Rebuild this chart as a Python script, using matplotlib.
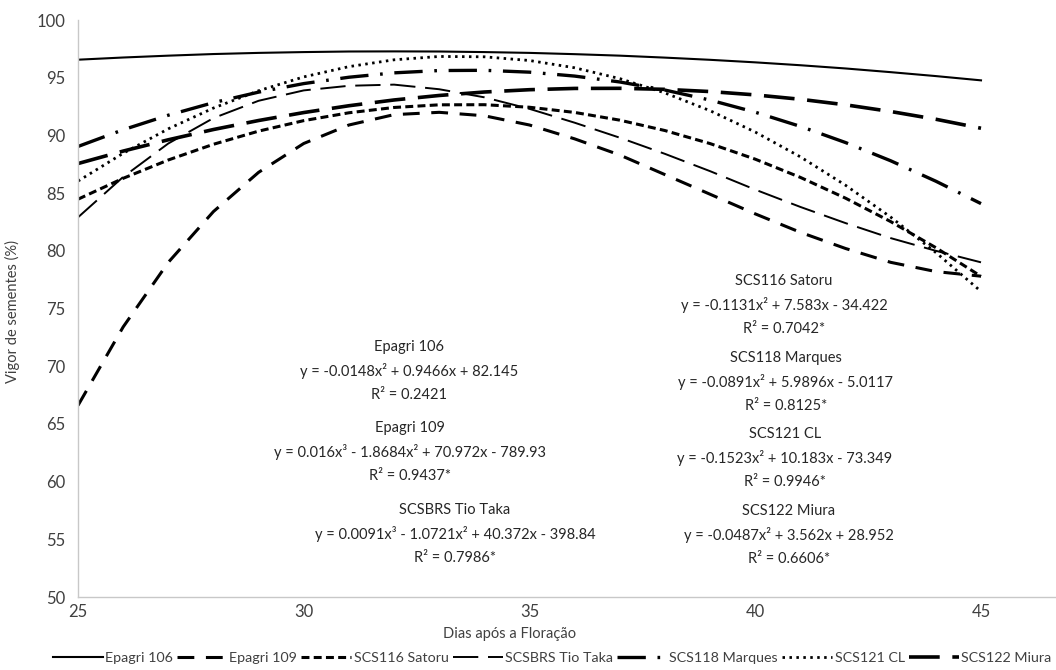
import matplotlib
matplotlib.use('Agg')
import matplotlib.pyplot as plt

plt.rcParams['font.family'] = ['Lato', 'DejaVu Sans']

# days after flowering
days = [25, 26, 27, 28, 29, 30, 31, 32, 33, 34, 35,
        36, 37, 38, 39, 40, 41, 42, 43, 44, 45]

# seed vigour (%)
epagri_106 = [96.56, 96.75, 96.91, 97.05, 97.15, 97.22, 97.27, 97.28, 97.27, 97.22, 97.15,
              97.04, 96.91, 96.74, 96.55, 96.33, 96.08, 95.80, 95.48, 95.14, 94.77]
epagri_109 = [66.6, 73.4, 79.0, 83.4, 86.8, 89.3, 90.9, 91.8, 92.0, 91.7, 90.9,
              89.7, 88.3, 86.6, 84.9, 83.2, 81.6, 80.2, 79.0, 78.2, 77.8]
scs116_satoru = [84.47, 86.28, 87.87, 89.23, 90.37, 91.28, 91.96, 92.42, 92.65, 92.66, 92.44,
                 91.99, 91.32, 90.42, 89.29, 87.94, 86.36, 84.56, 82.53, 80.27, 77.79]
scsbrs_tio_taka = [82.9, 86.4, 89.3, 91.5, 93.0, 93.9, 94.3, 94.4, 94.0, 93.3, 92.3,
                   91.1, 89.8, 88.4, 86.9, 85.3, 83.8, 82.4, 81.1, 80.0, 79.0]
scs118_marques = [89.04, 90.49, 91.75, 92.84, 93.75, 94.49, 95.04, 95.42, 95.62, 95.64, 95.48,
                  95.14, 94.63, 93.93, 93.06, 92.01, 90.78, 89.38, 87.80, 86.03, 84.09]
scs121_cl = [86.04, 88.45, 90.57, 92.37, 93.87, 95.07, 95.96, 96.55, 96.84, 96.81, 96.49,
             95.86, 94.92, 93.68, 92.14, 90.29, 88.14, 85.68, 82.92, 79.85, 76.48]
scs122_miura = [87.56, 88.64, 89.62, 90.51, 91.29, 91.98, 92.57, 93.07, 93.46, 93.76, 93.96,
                94.07, 94.08, 93.99, 93.80, 93.51, 93.13, 92.65, 92.07, 91.40, 90.62]

names = ['Epagri 106', 'Epagri 109', 'SCS116 Satoru', 'SCSBRS Tio Taka',
         'SCS118 Marques', 'SCS121 CL', 'SCS122 Miura']

eq_left = [
    ('Epagri 106', 'y = -0.0148x² + 0.9466x + 82.145', 'R² = 0.2421'),
    ('Epagri 109', 'y = 0.016x³ - 1.8684x² + 70.972x - 789.93', 'R² = 0.9437*'),
    ('SCSBRS Tio Taka', 'y = 0.0091x³ - 1.0721x² + 40.372x - 398.84', 'R² = 0.7986*'),
]
eq_right = [
    ('SCS116 Satoru', 'y = -0.1131x² + 7.583x - 34.422', 'R² = 0.7042*'),
    ('SCS118 Marques', 'y = -0.0891x² + 5.9896x - 5.0117', 'R² = 0.8125*'),
    ('SCS121 CL', 'y = -0.1523x² + 10.183x - 73.349', 'R² = 0.9946*'),
    ('SCS122 Miura', 'y = -0.0487x² + 3.562x + 28.952', 'R² = 0.6606*'),
]

series = [epagri_106, epagri_109, scs116_satoru, scsbrs_tio_taka,
          scs118_marques, scs121_cl, scs122_miura]
styles = [
    dict(lw=1.5, ls='-'),
    dict(lw=2.2, dashes=(5.5, 3.8)),
    dict(lw=2.2, dashes=(2.6, 1.4)),
    dict(lw=1.4, dashes=(13, 5)),
    dict(lw=2.4, dashes=(8.5, 3.5, 0.8, 3.5)),
    dict(lw=2.0, dashes=(0.9, 1.6)),
    dict(lw=2.6, dashes=(8.5, 3.5)),
]

fig = plt.figure(figsize=(10.56, 6.70), dpi=100)
ax = fig.add_axes([78 / 1056, 73 / 670, (1056 - 78) / 1056, 577 / 670])

handles = []
for vals, name, st in zip(series, names, styles):
    line, = ax.plot(days, vals, color='black', label=name, **st)
    handles.append(line)

ax.set_xlim(25, 25 + (1056 - 78) / 45.15)
ax.set_ylim(50, 100)
ax.set_xticks([25, 30, 35, 40, 45])
ax.set_yticks(range(50, 101, 5))
ax.tick_params(length=0, labelsize=12, colors='#404040')
ax.tick_params(axis='x', pad=5)
ax.tick_params(axis='y', pad=9)
for s in ['top', 'right']:
    ax.spines[s].set_visible(False)
for s in ['left', 'bottom']:
    ax.spines[s].set_color('#c8c8c8')
    ax.spines[s].set_linewidth(1)

fig.text(12 / 1056, 1 - 312 / 670, 'Vigor de sementes (%)', rotation=90,
         ha='center', va='center', fontsize=10.5, color='#404040')
fig.text(510 / 1056, 1 - 634 / 670, 'Dias após a Floração',
         ha='center', va='center', fontsize=10.5, color='#404040')

# trend line labels
def put_block(cx, y0, block):
    for i, t in enumerate(block):
        fig.text(cx / 1056, 1 - (y0 + i * 24) / 670, t, ha='center', va='center',
                 fontsize=10.5, color='#262626')

put_block(409, 347, eq_left[0])
put_block(410, 428, eq_left[1])
put_block(455, 510, eq_left[2])
put_block(784, 281, eq_right[0])
put_block(786, 358, eq_right[1])
put_block(785, 434, eq_right[2])
put_block(789, 511, eq_right[3])

leg = fig.legend(handles=handles, loc='center', bbox_to_anchor=(552 / 1056, 1 - 658 / 670),
                 ncol=7, frameon=False, fontsize=10.3, handlelength=3.5,
                 handletextpad=0.15, columnspacing=0.3, borderaxespad=0)
for t in leg.get_texts():
    t.set_color('#404040')

fig.savefig('out.png', dpi=100)
